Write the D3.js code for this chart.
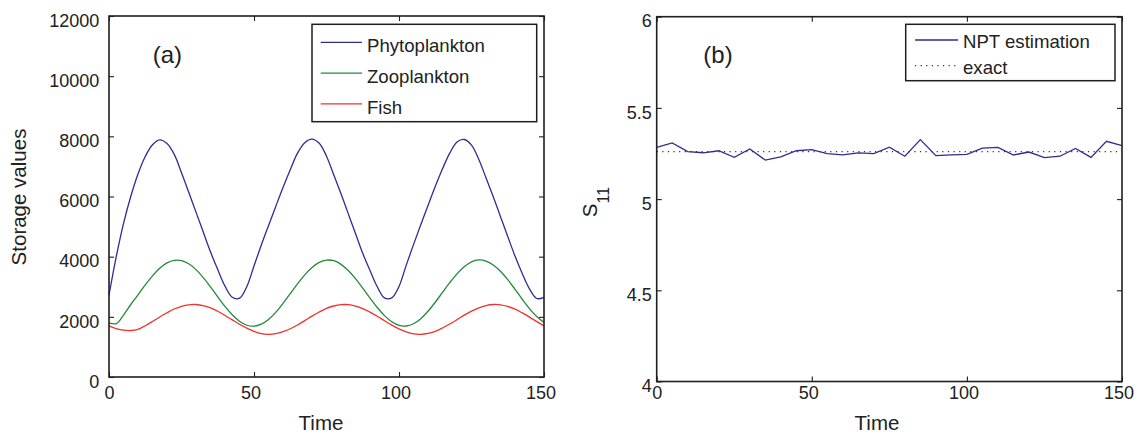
<!DOCTYPE html>
<meta charset="utf-8">
<script src="https://d3js.org/d3.v7.min.js"></script>
<style>
  body { margin: 0; background: #fff; }
  text { font-family: "Liberation Sans", Arial, sans-serif; fill: #222; }
</style>
<div id="chart"></div>
<script>
// ---- data ----
const time = [0, 2.5, 5, 7.5, 10, 12.5, 15, 17.5, 20, 22.5, 25, 27.5, 30, 32.5, 35, 37.5, 40, 42.5, 45, 47.5,
  50, 52.5, 55, 57.5, 60, 62.5, 65, 67.5, 70, 72.5, 75, 77.5, 80, 82.5, 85, 87.5, 90, 92.5, 95, 97.5,
  100, 102.5, 105, 107.5, 110, 112.5, 115, 117.5, 120, 122.5, 125, 127.5, 130, 132.5, 135, 137.5, 140, 142.5, 145, 147.5, 150];

const phytoplankton = [2720, 4000, 5100, 6000, 6750, 7330, 7720, 7880, 7760, 7400, 6790, 6140, 5480, 4820, 4160, 3570, 3020, 2650, 2620, 3000,
  3690, 4380, 5030, 5670, 6300, 6890, 7440, 7790, 7910, 7770, 7340, 6720, 6090, 5430, 4770, 4110, 3540, 3000, 2630, 2630,
  3010, 3720, 4400, 5060, 5700, 6330, 6920, 7440, 7810, 7895, 7710, 7240, 6620, 5990, 5330, 4670, 4020, 3440, 2930, 2610, 2650];

const zooplankton = [1800, 1775, 2060, 2410, 2730, 3060, 3360, 3615, 3795, 3880, 3870, 3765, 3570, 3305, 2995, 2665, 2345, 2070, 1855, 1720,
  1690, 1755, 1915, 2150, 2445, 2770, 3095, 3395, 3640, 3810, 3885, 3865, 3745, 3540, 3270, 2955, 2625, 2310, 2040, 1835,
  1715, 1695, 1770, 1940, 2185, 2485, 2810, 3135, 3430, 3665, 3825, 3890, 3855, 3725, 3515, 3235, 2915, 2585, 2275, 2010, 1815];

const fish = [1700, 1610, 1555, 1545, 1585, 1705, 1845, 1995, 2135, 2260, 2350, 2400, 2410, 2370, 2295, 2185, 2045, 1900, 1755, 1625,
  1520, 1445, 1420, 1440, 1505, 1605, 1730, 1875, 2025, 2160, 2280, 2360, 2405, 2405, 2360, 2275, 2155, 2020, 1870, 1725,
  1600, 1500, 1435, 1420, 1450, 1520, 1630, 1760, 1905, 2055, 2190, 2300, 2375, 2410, 2400, 2345, 2255, 2130, 1990, 1840, 1700];

const nptTime = [0, 5, 10, 15, 20, 25, 30, 35, 40, 45, 50, 55, 60, 65, 70, 75,
  80, 85, 90, 95, 100, 105, 110, 115, 120, 125, 130, 135, 140, 145, 150];
const nptEstimation = [5.284, 5.308, 5.26, 5.254, 5.265, 5.229, 5.275, 5.214, 5.231, 5.265, 5.271, 5.249, 5.242, 5.253, 5.249, 5.285,
  5.235, 5.326, 5.238, 5.242, 5.245, 5.28, 5.284, 5.242, 5.258, 5.227, 5.235, 5.278, 5.229, 5.317, 5.293];
const exactValue = 5.26;

const seriesNames = ["Phytoplankton", "Zooplankton", "Fish"];
const seriesColors = ["#2d2d94", "#23893a", "#f2302c"];

const xTicks = [0, 50, 100, 150];
const leftYTicks = [0, 2000, 4000, 6000, 8000, 10000, 12000];
const rightYTicks = [4, 4.5, 5, 5.5, 6];
const rightYLabels = ["4", "4.5", "5", "5.5", "6"];

// ---- setup ----
const svg = d3.select("#chart")
  .append("svg")
  .attr("width", 1136)
  .attr("height", 433);

const frameColor = "#1f1f1f";

function drawFrame(p, x, y, yTicks, yFormat, xPad, yPad) {
  const g = svg.append("g");
  g.append("g")
    .attr("transform", `translate(0,${p.bottom})`)
    .attr("class", "xbottom")
    .call(d3.axisBottom(x).tickValues(xTicks).tickSizeInner(-5).tickSizeOuter(0).tickPadding(xPad));
  g.append("g")
    .attr("transform", `translate(0,${p.top})`)
    .call(d3.axisTop(x).tickValues(xTicks).tickFormat("").tickSizeInner(-5).tickSizeOuter(0));
  g.append("g")
    .attr("transform", `translate(${p.left},0)`)
    .attr("class", "yleft")
    .call(d3.axisLeft(y).tickValues(yTicks).tickFormat(yFormat).tickSizeInner(-5).tickSizeOuter(0).tickPadding(yPad));
  g.append("g")
    .attr("transform", `translate(${p.right},0)`)
    .call(d3.axisRight(y).tickValues(yTicks).tickFormat("").tickSizeInner(-5).tickSizeOuter(0));

  g.selectAll(".domain").remove();
  g.selectAll(".tick line").attr("stroke", frameColor).attr("stroke-width", 1.1);
  g.selectAll(".tick text")
    .attr("font-family", "Liberation Sans, Arial, sans-serif")
    .attr("font-size", 18)
    .attr("fill", "#222");
  g.selectAll(".yleft .tick text").attr("dy", "0.57em");
  // MATLAB puts the multi-digit labels a little left of their ticks
  g.selectAll(".xbottom .tick text").attr("dx", d => d > 0 ? -3.5 : 0);

  g.append("rect")
    .attr("x", p.left).attr("y", p.top)
    .attr("width", p.right - p.left).attr("height", p.bottom - p.top)
    .attr("fill", "none")
    .attr("stroke", frameColor)
    .attr("stroke-width", 1.6);
  return g;
}

// ---- panel (a) ----
const pa = {left: 109, right: 544, top: 16, bottom: 377};
const xa = d3.scaleLinear().domain([0, 150]).range([pa.left, pa.right]);
const ya = d3.scaleLinear().domain([0, 12000]).range([pa.bottom, pa.top]);

const seriesA = [phytoplankton, zooplankton, fish];
const lineA = d3.line()
  .x((d, i) => xa(time[i]))
  .y(d => ya(d))
  .curve(d3.curveCatmullRom.alpha(0.5));

svg.append("g").selectAll("path")
  .data(seriesA)
  .join("path")
  .attr("d", lineA)
  .attr("fill", "none")
  .attr("stroke", (d, i) => seriesColors[i])
  .attr("stroke-width", 1.3);

drawFrame(pa, xa, ya, leftYTicks, d => String(d), 9.7, 9.7);

// legend (a)
const legA = svg.append("g").attr("transform", "translate(312,24.3)");
legA.append("rect")
  .attr("width", 224.7).attr("height", 97.4)
  .attr("fill", "#fff").attr("stroke", frameColor).attr("stroke-width", 1.5);
seriesNames.forEach((name, i) => {
  const yy = 18 + i * 30.8;
  legA.append("line")
    .attr("x1", 8.7).attr("x2", 50).attr("y1", yy).attr("y2", yy)
    .attr("stroke", seriesColors[i]).attr("stroke-width", 1.3);
  legA.append("text")
    .attr("x", 55).attr("y", yy + 10.2)
    .attr("font-size", 18.6)
    .text(name);
});

svg.append("text").attr("x", 152.7).attr("y", 63).attr("font-size", 24).text("(a)");
svg.append("text").attr("x", 321).attr("y", 429.5).attr("text-anchor", "middle").attr("font-size", 20.5).text("Time");
svg.append("text")
  .attr("transform", "translate(25.5,197) rotate(-90)")
  .attr("text-anchor", "middle")
  .attr("font-size", 20.5)
  .text("Storage values");

// ---- panel (b) ----
const pb = {left: 656.7, right: 1122, top: 16.7, bottom: 381.5};
const xb = d3.scaleLinear().domain([0, 150]).range([pb.left, pb.right]);
const yb = d3.scaleLinear().domain([4, 6]).range([pb.bottom, pb.top]);

svg.append("line")
  .attr("x1", xb(0)).attr("x2", xb(150))
  .attr("y1", yb(exactValue)).attr("y2", yb(exactValue))
  .attr("stroke", "#333").attr("stroke-width", 1.3)
  .attr("stroke-dasharray", "1.2,4.4");

svg.append("path")
  .datum(nptEstimation)
  .attr("d", d3.line().x((d, i) => xb(nptTime[i])).y(d => yb(d)))
  .attr("fill", "none")
  .attr("stroke", seriesColors[0])
  .attr("stroke-width", 1.3);

drawFrame(pb, xb, yb, rightYTicks, (d, i) => rightYLabels[i], 5.2, 5);

// legend (b)
const legB = svg.append("g").attr("transform", "translate(905.7,24.3)");
legB.append("rect")
  .attr("width", 209.3).attr("height", 56.4)
  .attr("fill", "#fff").attr("stroke", frameColor).attr("stroke-width", 1.5);
legB.append("line")
  .attr("x1", 9.3).attr("x2", 52.3).attr("y1", 15.7).attr("y2", 15.7)
  .attr("stroke", seriesColors[0]).attr("stroke-width", 1.3);
legB.append("text").attr("x", 57.3).attr("y", 24).attr("font-size", 18.6).text("NPT estimation");
legB.append("line")
  .attr("x1", 9.3).attr("x2", 52.3).attr("y1", 41.4).attr("y2", 41.4)
  .attr("stroke", "#333").attr("stroke-width", 1.3)
  .attr("stroke-dasharray", "1.2,4.4");
legB.append("text").attr("x", 57.3).attr("y", 49.7).attr("font-size", 18.6).text("exact");

svg.append("text").attr("x", 703.3).attr("y", 63).attr("font-size", 24).text("(b)");
svg.append("text").attr("x", 877).attr("y", 429.5).attr("text-anchor", "middle").attr("font-size", 20.5).text("Time");

const sLabel = svg.append("text")
  .attr("transform", "translate(597,202) rotate(-90)")
  .attr("text-anchor", "middle");
sLabel.append("tspan").attr("font-size", 20.5).text("S");
sLabel.append("tspan").attr("font-size", 16).attr("dy", 12).text("11");
</script>
